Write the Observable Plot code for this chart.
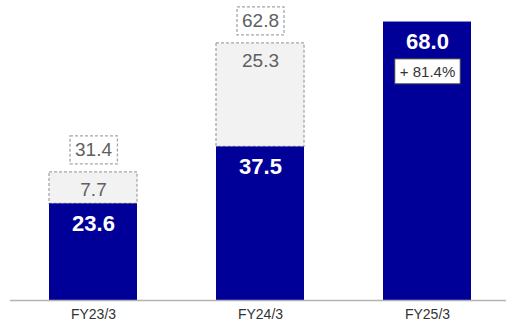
<!DOCTYPE html>
<html><head><meta charset="utf-8">
<script src="https://cdn.jsdelivr.net/npm/d3@7"></script>
<script src="https://cdn.jsdelivr.net/npm/@observablehq/plot@0.6"></script>
<style>body{margin:0;background:#fff;font-family:"Liberation Sans",Arial,sans-serif}</style>
</head><body><div id="chart"></div>
<script>
const categories = ["FY23/3", "FY24/3", "FY25/3"];
const baseValues = [23.6, 37.5, 68.0];
const addValues = [7.7, 25.3, null];
const totalValues = [31.4, 62.8, null];
const growthLabels = [null, null, "+ 81.4%"];

const rows = categories.map((c, i) => ({cat: c, base: baseValues[i], add: addValues[i], total: totalValues[i], growth: growthLabels[i]}));
const addRows = rows.filter(d => d.add != null);
const growthRows = rows.filter(d => d.growth);
const fmt = v => v.toFixed(1);

const chart = Plot.plot({
  width: 506,
  height: 326,
  marginLeft: 10,
  marginRight: 0,
  marginTop: 0,
  marginBottom: 26,
  style: {fontFamily: "'Liberation Sans', Arial, sans-serif", background: "white"},
  x: {domain: categories, range: [9.5, 510.5], paddingInner: 0.473, paddingOuter: 0.2365, axis: null},
  y: {domain: [0, 73.26], axis: null},
  marks: [
    Plot.barY(addRows, {x: "cat", y1: "base", y2: d => d.base + d.add, fill: "#f2f2f2", stroke: "#a6a6a6", strokeWidth: 1.3, strokeDasharray: "3,2"}),
    Plot.barY(rows, {x: "cat", y1: 0, y2: "base", fill: "#000099"}),
    Plot.ruleY([0], {stroke: "#b3b3b3", strokeWidth: 1.6}),
    Plot.text(rows, {x: "cat", y: "base", text: d => fmt(d.base), dy: 20, fill: "white", fontWeight: "bold", fontSize: 22}),
    Plot.text(addRows, {x: "cat", y: d => d.base + d.add, text: d => fmt(d.add), dy: 17.5, fill: "#606060", fontSize: 19}),
    Plot.text(addRows, {x: "cat", y: d => d.base + d.add, text: d => fmt(d.total), dy: -22, fill: "#606060", fontSize: 19, className: "total-label"}),
    Plot.text(growthRows, {x: "cat", y: "base", text: "growth", dy: 50, fill: "#333333", fontSize: 15, className: "growth-label"}),
    Plot.axisX({tickSize: 0, tickPadding: 9, fontSize: 14, color: "#333333", label: null})
  ]
});
document.getElementById("chart").appendChild(chart);

function boxAround(cls, padX, padY, attrs) {
  d3.select(chart).selectAll("g." + cls + " text").each(function() {
    const b = this.getBBox();
    const r = document.createElementNS("http://www.w3.org/2000/svg", "rect");
    r.setAttribute("x", b.x - padX);
    r.setAttribute("y", b.y - padY);
    r.setAttribute("width", b.width + 2 * padX);
    r.setAttribute("height", b.height + 2 * padY);
    const t = this.getAttribute("transform");
    if (t) r.setAttribute("transform", t);
    for (const k in attrs) r.setAttribute(k, attrs[k]);
    this.parentNode.insertBefore(r, this);
  });
}
boxAround("total-label", 5, 3.5, {fill: "white", stroke: "#a6a6a6", "stroke-width": 1.3, "stroke-dasharray": "3,2"});
boxAround("growth-label", 5, 4, {fill: "white", stroke: "#404040", "stroke-width": 1});
</script>
</body></html>
